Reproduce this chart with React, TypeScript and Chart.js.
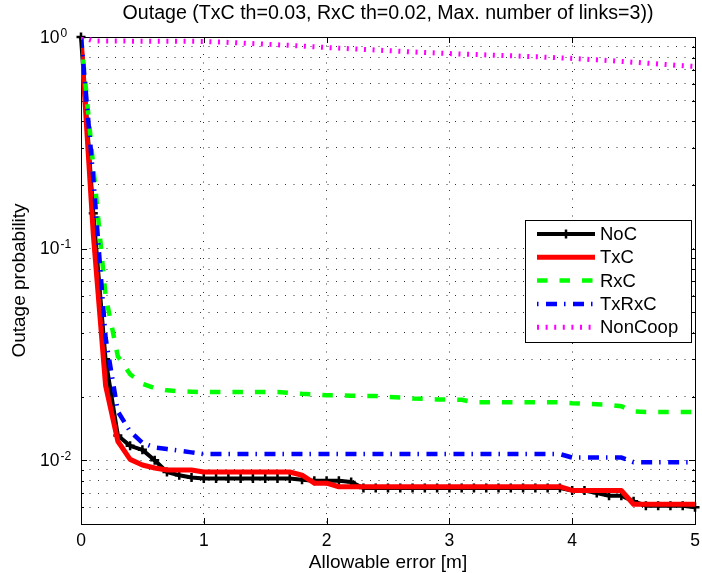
import React, { useEffect, useRef } from 'react';
import { Chart, registerables } from 'chart.js';

Chart.register(...registerables);

const FONT = '"Liberation Sans", Arial, Helvetica, sans-serif';

const TITLE = 'Outage (TxC th=0.03, RxC th=0.02, Max. number of links=3))';
const X_LABEL = 'Allowable error [m]';
const Y_LABEL = 'Outage probability';

// Allowable error [m]
const allowableError = [
  0, 0.1, 0.2, 0.3, 0.4, 0.5, 0.6, 0.7, 0.8, 0.9,
  1, 1.1, 1.2, 1.3, 1.4, 1.5, 1.6, 1.7, 1.8, 1.9,
  2, 2.1, 2.2, 2.3, 2.4, 2.5, 2.6, 2.7, 2.8, 2.9,
  3, 3.1, 3.2, 3.3, 3.4, 3.5, 3.6, 3.7, 3.8, 3.9,
  4, 4.1, 4.2, 4.3, 4.4, 4.5, 4.6, 4.7, 4.8, 4.9,
  5,
];

// Outage probability per scheme
const noC = [
  1.0, 0.147, 0.030, 0.0131, 0.0117, 0.0112, 0.0100, 0.0088, 0.0085, 0.0083,
  0.0082, 0.0082, 0.0082, 0.0082, 0.0082, 0.0082, 0.0082, 0.0082, 0.0081, 0.0080,
  0.0080, 0.0080, 0.0079, 0.0074, 0.0074, 0.0074, 0.0074, 0.0074, 0.0074, 0.0074,
  0.0074, 0.0074, 0.0074, 0.0074, 0.0074, 0.0074, 0.0074, 0.0074, 0.0074, 0.0074,
  0.0072, 0.0072, 0.0070, 0.0068, 0.0068, 0.0064, 0.0061, 0.0061, 0.0061, 0.0061,
  0.0060,
];

const txC = [
  1.0, 0.117, 0.0226, 0.0123, 0.0101, 0.0095, 0.0092, 0.0090, 0.0090, 0.0090,
  0.0088, 0.0088, 0.0088, 0.0088, 0.0088, 0.0088, 0.0088, 0.0088, 0.0085, 0.0078,
  0.0078, 0.0075, 0.0075, 0.0075, 0.0075, 0.0075, 0.0075, 0.0075, 0.0075, 0.0075,
  0.0075, 0.0075, 0.0075, 0.0075, 0.0075, 0.0075, 0.0075, 0.0075, 0.0075, 0.0075,
  0.0072, 0.0072, 0.0072, 0.0072, 0.0072, 0.0062, 0.0062, 0.0062, 0.0062, 0.0062,
  0.0062,
];

const rxC = [
  1.0, 0.245, 0.060, 0.031, 0.0255, 0.0230, 0.0219, 0.0214, 0.0212, 0.0211,
  0.0210, 0.0210, 0.0210, 0.0210, 0.0210, 0.0210, 0.0210, 0.0208, 0.0206, 0.0205,
  0.0203, 0.0203, 0.0202, 0.0201, 0.0201, 0.0199, 0.0198, 0.0196, 0.0195, 0.0194,
  0.0194, 0.0193, 0.0188, 0.0188, 0.0188, 0.0188, 0.0188, 0.0188, 0.0188, 0.0188,
  0.0186, 0.0185, 0.0184, 0.0183, 0.0180, 0.0170, 0.0169, 0.0169, 0.0169, 0.0169,
  0.0169,
];

const txRxC = [
  1.0, 0.216, 0.038, 0.0170, 0.0137, 0.0121, 0.0115, 0.0113, 0.0111, 0.0109,
  0.0107, 0.0107, 0.0107, 0.0107, 0.0107, 0.0107, 0.0107, 0.0107, 0.0107, 0.0107,
  0.0107, 0.0107, 0.0107, 0.0107, 0.0107, 0.0107, 0.0107, 0.0107, 0.0107, 0.0107,
  0.0107, 0.0107, 0.0107, 0.0107, 0.0107, 0.0107, 0.0107, 0.0107, 0.0107, 0.0107,
  0.0103, 0.0103, 0.0103, 0.0103, 0.0103, 0.0098, 0.0098, 0.0098, 0.0098, 0.0098,
  0.0098,
];

const nonCoop = [
  1.0, 0.958, 0.957, 0.957, 0.956, 0.956, 0.955, 0.955, 0.954, 0.954,
  0.953, 0.948, 0.943, 0.937, 0.931, 0.925, 0.919, 0.913, 0.906, 0.899,
  0.892, 0.886, 0.880, 0.874, 0.868, 0.862, 0.856, 0.850, 0.845, 0.840,
  0.835, 0.831, 0.827, 0.823, 0.819, 0.815, 0.811, 0.807, 0.802, 0.797,
  0.792, 0.786, 0.780, 0.774, 0.767, 0.760, 0.753, 0.746, 0.739, 0.732,
  0.725,
];

const seriesNames = ['NoC', 'TxC', 'RxC', 'TxRxC', 'NonCoop'];

// Axis ticks
const xTickValues = [0, 1, 2, 3, 4, 5];
const yGridValues = [
  0.005, 0.006, 0.007, 0.008, 0.009,
  0.01, 0.02, 0.03, 0.04, 0.05, 0.06, 0.07, 0.08, 0.09,
  0.1, 0.2, 0.3, 0.4, 0.5, 0.6, 0.7, 0.8, 0.9,
  1,
];
const yMajorValues = [1, 0.1, 0.01];
const yMajorExponents = ['0', '-1', '-2'];

const toPoints = (ys: number[]) => allowableError.map((x, i) => ({ x, y: ys[i] }));

// dash offsets so each legend sample starts like its curve's pattern
const legendDashOffsets = [0, 0, 0, 18, 0];

const matlabFrame = {
  id: 'matlabFrame',
  beforeDatasetsDraw(chart: any) {
    const { ctx, chartArea: a, scales } = chart;
    const xs = scales.x;
    const ys = scales.y;
    ctx.save();
    ctx.setLineDash([]);
    ctx.strokeStyle = '#000';
    ctx.lineWidth = 1;
    ctx.beginPath();
    for (const v of xTickValues) {
      const px = Math.round(xs.getPixelForValue(v)) + 0.5;
      ctx.moveTo(px, a.bottom);
      ctx.lineTo(px, a.bottom - 6);
      ctx.moveTo(px, a.top);
      ctx.lineTo(px, a.top + 6);
    }
    for (const v of yGridValues) {
      const py = Math.round(ys.getPixelForValue(v)) + 0.5;
      const len = yMajorValues.includes(v) ? 6 : 3;
      ctx.moveTo(a.left, py);
      ctx.lineTo(a.left + len, py);
      ctx.moveTo(a.right, py);
      ctx.lineTo(a.right - len, py);
    }
    ctx.stroke();
    ctx.strokeRect(Math.round(a.left) + 0.5, Math.round(a.top) + 0.5,
      Math.round(a.right - a.left), Math.round(a.bottom - a.top));
    ctx.restore();
  },
  afterDraw(chart: any) {
    const { ctx, chartArea: a, scales } = chart;
    const xs = scales.x;
    const ys = scales.y;
    ctx.save();
    ctx.fillStyle = '#000';

    // title
    ctx.font = `19.6px ${FONT}`;
    ctx.textAlign = 'center';
    ctx.textBaseline = 'middle';
    ctx.fillText(TITLE, (a.left + a.right) / 2, 14);

    // x tick labels
    ctx.font = `17.5px ${FONT}`;
    for (const v of xTickValues) {
      ctx.fillText(String(v), xs.getPixelForValue(v), 541);
    }

    // y tick labels (10 with superscript exponent)
    yMajorValues.forEach((v, i) => {
      const py = ys.getPixelForValue(v);
      ctx.font = `17.5px ${FONT}`;
      ctx.textAlign = 'left';
      ctx.textBaseline = 'middle';
      ctx.fillText('10', 40, py + 1);
      const w = ctx.measureText('10').width;
      ctx.font = `12px ${FONT}`;
      ctx.textBaseline = 'alphabetic';
      ctx.fillText(yMajorExponents[i], 40 + w + 1, py - 0.5);
    });

    // axis labels
    ctx.font = `19px ${FONT}`;
    ctx.textAlign = 'center';
    ctx.textBaseline = 'middle';
    ctx.fillText(X_LABEL, (a.left + a.right) / 2, 563);
    ctx.translate(20, (a.top + a.bottom) / 2);
    ctx.rotate(-Math.PI / 2);
    ctx.fillText(Y_LABEL, 0, 0);
    ctx.setTransform(1, 0, 0, 1, 0, 0);

    // legend box
    const bw = 166;
    const bh = 122;
    const bx = a.right - 170;
    const by = a.top + 183;
    ctx.fillStyle = '#fff';
    ctx.fillRect(bx, by, bw, bh);
    ctx.strokeStyle = '#000';
    ctx.lineWidth = 1;
    ctx.setLineDash([]);
    ctx.strokeRect(bx + 0.5, by + 0.5, bw, bh);

    chart.data.datasets.forEach((ds: any, i: number) => {
      const rowY = by + 14 + i * 23.3;
      const x0 = bx + 12;
      const x1 = bx + 70;
      ctx.strokeStyle = ds.borderColor;
      ctx.lineWidth = ds.borderWidth;
      ctx.lineCap = 'butt';
      ctx.setLineDash(ds.borderDash || []);
      ctx.lineDashOffset = legendDashOffsets[i];
      ctx.beginPath();
      ctx.moveTo(x0, rowY);
      ctx.lineTo(x1, rowY);
      ctx.stroke();
      if (ds.pointRadius > 0) {
        ctx.setLineDash([]);
        ctx.lineWidth = ds.pointBorderWidth;
        ctx.beginPath();
        const cx = (x0 + x1) / 2;
        ctx.moveTo(cx, rowY - ds.pointRadius);
        ctx.lineTo(cx, rowY + ds.pointRadius);
        ctx.stroke();
      }
      ctx.setLineDash([]);
      ctx.fillStyle = '#000';
      ctx.font = `18.5px ${FONT}`;
      ctx.textAlign = 'left';
      ctx.textBaseline = 'middle';
      ctx.fillText(seriesNames[i], bx + 75, rowY + 1);
    });
    ctx.restore();
  },
};

export default function App() {
  const canvasRef = useRef<HTMLCanvasElement>(null);

  useEffect(() => {
    const canvas = canvasRef.current;
    if (!canvas) return;
    const chart = new Chart(canvas, {
      type: 'line',
      data: {
        datasets: [
          {
            label: seriesNames[0],
            data: toPoints(noC),
            borderColor: '#000000',
            backgroundColor: '#000000',
            borderWidth: 4,
            pointStyle: 'cross',
            pointRadius: 4.5,
            pointBorderWidth: 2.5,
            pointBorderColor: '#000000',
            borderJoinStyle: 'round',
            clip: false,
            order: 5,
          },
          {
            label: seriesNames[1],
            data: toPoints(txC),
            borderColor: '#ff0000',
            borderWidth: 5,
            pointRadius: 0,
            borderJoinStyle: 'round',
            order: 4,
          },
          {
            label: seriesNames[2],
            data: toPoints(rxC),
            borderColor: '#00ff00',
            borderWidth: 4.5,
            borderDash: [10.5, 12],
            pointRadius: 0,
            order: 3,
          },
          {
            label: seriesNames[3],
            data: toPoints(txRxC),
            borderColor: '#0000ff',
            borderWidth: 4.5,
            borderDash: [11, 7, 1.5, 7.5],
            pointRadius: 0,
            order: 2,
          },
          {
            label: seriesNames[4],
            data: toPoints(nonCoop),
            borderColor: '#ff00ff',
            borderWidth: 5,
            borderDash: [2, 6.6],
            pointRadius: 0,
            order: 1,
          },
        ] as any,
      },
      options: {
        responsive: false,
        animation: false,
        devicePixelRatio: 1,
        events: [],
        layout: { padding: { top: 37, right: 4, left: 0, bottom: 0 } },
        plugins: {
          legend: { display: false },
          title: { display: false },
          tooltip: { enabled: false },
        },
        scales: {
          x: {
            type: 'linear',
            min: 0,
            max: 5,
            ticks: { display: false },
            grid: { color: 'rgba(0,0,0,0.8)', lineWidth: 1, drawTicks: false },
            border: { display: false, dash: [1, 7.5] },
            afterBuildTicks: (scale: any) => {
              scale.ticks = xTickValues.map((value) => ({ value }));
            },
            afterFit: (scale: any) => {
              scale.height = 49;
            },
          },
          y: {
            type: 'logarithmic',
            min: 0.005,
            max: 1,
            ticks: { display: false },
            grid: { color: 'rgba(0,0,0,0.8)', lineWidth: 1, drawTicks: false },
            border: { display: false, dash: [1, 7.5] },
            afterBuildTicks: (scale: any) => {
              scale.ticks = yGridValues.map((value) => ({ value }));
            },
            afterFit: (scale: any) => {
              scale.width = 81;
            },
          },
        },
      } as any,
      plugins: [matlabFrame],
    });
    return () => chart.destroy();
  }, []);

  return (
    <div style={{ position: 'absolute', left: 0, top: 0, width: 702, height: 573, background: '#fff' }}>
      <canvas ref={canvasRef} width={702} height={573} style={{ display: 'block', width: 702, height: 573 }} />
    </div>
  );
}
